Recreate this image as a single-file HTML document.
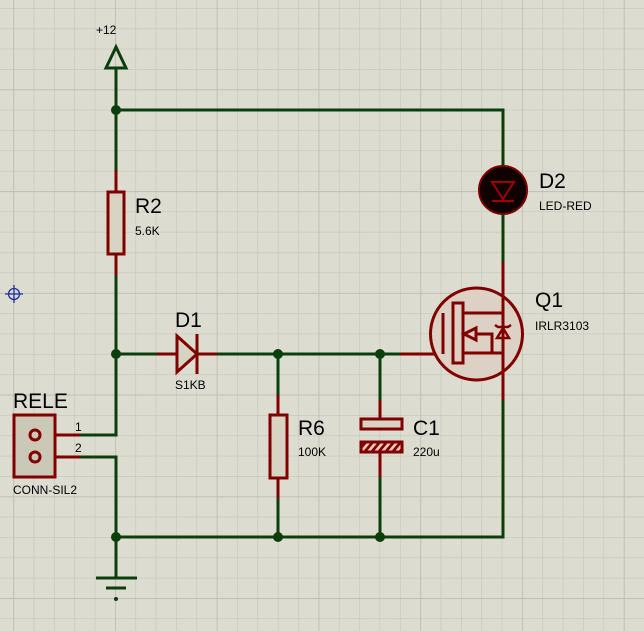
<!DOCTYPE html>
<html><head><meta charset="utf-8"><style>
html,body{margin:0;padding:0;background:#dcdcd0;}
svg{display:block;}
text{font-family:"Liberation Sans",sans-serif;fill:#000;}
</style></head><body>
<svg width="644" height="631" viewBox="0 0 644 631" xmlns="http://www.w3.org/2000/svg">
<defs>
<pattern id="g" x="13.3" y="8" width="20.35" height="20.35" patternUnits="userSpaceOnUse">
<path d="M0 0V20.35M0 0H20.35" stroke="#c6c6ba" stroke-width="1.2" fill="none"/>
</pattern>
<pattern id="G" x="13.3" y="89.4" width="101.75" height="101.75" patternUnits="userSpaceOnUse">
<path d="M0 0V101.75M0 0H101.75" stroke="#bcbcb0" stroke-width="1.5" fill="none"/>
</pattern>
<pattern id="h" width="7" height="10" patternUnits="userSpaceOnUse" patternTransform="skewX(-40)">
<rect width="7" height="10" fill="#f0c8c0"/><rect width="3.5" height="10" fill="#800000"/>
</pattern>
</defs>
<rect width="644" height="631" fill="#dcdcd0"/>
<rect width="644" height="631" fill="url(#g)"/>
<rect width="644" height="631" fill="url(#G)"/>

<g stroke="#2030a0" stroke-width="1.3" fill="none">
<circle cx="14" cy="294" r="5.5"/><path d="M5 294H23M14 285V303"/>
</g>

<g stroke="#0a3e0a" stroke-width="3" fill="none">
<path d="M116 67V170"/>
<path d="M116 110H503V166"/>
<path d="M116 275V435H80"/>
<path d="M80 457H116V578"/>
<path d="M116 537H503V400"/>
<path d="M116 354H157"/>
<path d="M217 354H400"/>
<path d="M278 354V395M278 498V537"/>
<path d="M380 354V400M380 477V537"/>
<path d="M503 214V262"/>
<path d="M96 578H137"/>
<path d="M106 588H126"/>
</g>
<circle cx="116" cy="599" r="2" fill="#0a3e0a"/>
<path d="M116 47L106 68H126Z" fill="none" stroke="#0a3e0a" stroke-width="3" stroke-linejoin="miter"/>
<g fill="#0a3e0a">
<circle cx="116" cy="110" r="5"/><circle cx="116" cy="354" r="5"/>
<circle cx="278" cy="354" r="5"/><circle cx="380" cy="354" r="5"/>
<circle cx="116" cy="537" r="5"/><circle cx="278" cy="537" r="5"/><circle cx="380" cy="537" r="5"/>
</g>

<g stroke="#800000" stroke-width="3" fill="none">
<path d="M116 170V192M116 254V275"/>
<path d="M157 354H177M197 354H217"/>
<path d="M278 395V415M278 478V498"/>
<path d="M380 400V419M380 452V477"/>
<path d="M400 354H443"/>
<path d="M503 166V214M503 262V400"/>
<path d="M40 435H80M40 457H80"/>
</g>

<rect x="108" y="192" width="16" height="62" fill="#d8d4c4" stroke="#800000" stroke-width="3"/>
<rect x="270" y="415" width="17" height="63" fill="#d8d4c4" stroke="#800000" stroke-width="3"/>
<rect x="361" y="419" width="41" height="10" fill="#d8d4c4" stroke="#800000" stroke-width="3"/>
<rect x="361" y="442" width="41" height="10" fill="url(#h)" stroke="#800000" stroke-width="3"/>
<path d="M177 336L197 354L177 372Z" fill="#d8d4c4" stroke="#800000" stroke-width="3" stroke-linejoin="miter"/>
<path d="M197 334V374" stroke="#800000" stroke-width="3"/>

<circle cx="503" cy="190" r="24" fill="#100000" stroke="#800000" stroke-width="2"/>
<g stroke="#a00000" stroke-width="2" fill="none">
<path d="M492 182H514L503 199Z"/><path d="M492 201H514"/>
</g>

<circle cx="476.5" cy="334" r="46" fill="#ddd0c4" stroke="#800000" stroke-width="3"/>
<g stroke="#800000" stroke-width="3" fill="none">
<path d="M503 288V381"/>
<path d="M443 354V313"/>
<rect x="453" y="303" width="10" height="60"/>
<path d="M463 313H503M463 353H503"/>
<path d="M475 334H492V353"/>
<path d="M464 334L476 328V340Z"/>
<path d="M497 338H509L503 328Z" stroke-width="2.5"/>
<path d="M495 325L498 327H508L511 325" stroke-width="2.5"/>
</g>

<rect x="14" y="415" width="41" height="62" fill="#ccc8b8" stroke="#800000" stroke-width="3"/>
<circle cx="35" cy="435" r="5" fill="#ccc8b8" stroke="#800000" stroke-width="3"/>
<circle cx="35" cy="457" r="5" fill="#ccc8b8" stroke="#800000" stroke-width="3"/>

<text x="96" y="34" font-size="12">+12</text>
<text x="135" y="213" font-size="21">R2</text>
<text x="135" y="235" font-size="12">5.6K</text>
<text x="175" y="327" font-size="21">D1</text>
<text x="175" y="389" font-size="12">S1KB</text>
<text x="298" y="435" font-size="21">R6</text>
<text x="298" y="456" font-size="12">100K</text>
<text x="413" y="435" font-size="21">C1</text>
<text x="413" y="456" font-size="12">220u</text>
<text x="539" y="188" font-size="21">D2</text>
<text x="539" y="210" font-size="12">LED-RED</text>
<text x="535" y="307" font-size="21">Q1</text>
<text x="535" y="330" font-size="12">IRLR3103</text>
<text x="13" y="408" font-size="21">RELE</text>
<text x="75" y="431" font-size="12">1</text>
<text x="75" y="452" font-size="12">2</text>
<text x="13" y="494" font-size="12">CONN-SIL2</text>
</svg>
</body></html>
